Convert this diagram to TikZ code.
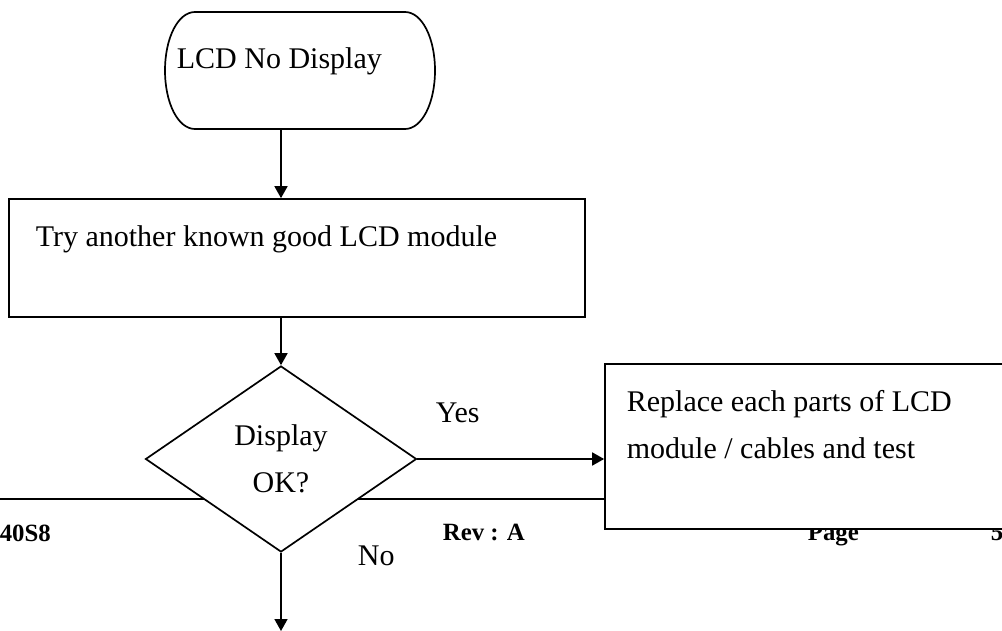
\documentclass[tikz,border=0pt]{standalone}
\usepackage{fontspec}
\setmainfont{Liberation Serif}
\usetikzlibrary{shapes.geometric,arrows.meta}
\tikzset{
  x=0.5pt, y=-0.5pt,
  arr/.style={-{Triangle[length=6pt,width=6.5pt]}},
  txt/.style={inner sep=0pt, anchor=base west, font=\fontsize{15pt}{23.5pt}\selectfont},
  foot/.style={inner sep=0pt, anchor=base west, font=\fontsize{12.4pt}{14pt}\selectfont\bfseries},
  termframe/.style={rectangle, inner sep=0pt, minimum width=135pt, minimum height=58.5pt},
  procbox/.style={draw, fill=white, rectangle, inner sep=0pt},
  decide/.style={draw, fill=white, diamond, minimum width=135.5pt, minimum height=93pt, inner sep=0pt, align=center, font=\fontsize{15pt}{23.5pt}\selectfont},
}
\begin{document}
\begin{tikzpicture}[line width=0.85pt]
\useasboundingbox (0,0) rectangle (1002,631);
\clip (0,0) rectangle (1002,631);
% page footer (behind the flowchart)
\draw (0,499) -- (700,499);
\node[foot] (f1) at (-1,541) {40S8};
\node[foot] (f2) at (442,540) {Rev : A};
\node[foot] (f3) at (807,540) {Page};
\node[foot] (f4) at (990,540) {5};
% flowchart
\node[termframe] (start) at (300,70.5) {};
\draw[fill=white, line join=round] (195,12) -- (405,12)
  .. controls (422,12) and (435,38) .. (435,70.5)
  .. controls (435,103) and (422,129) .. (405,129)
  -- (195,129)
  .. controls (178,129) and (165,103) .. (165,70.5)
  .. controls (165,38) and (178,12) .. cycle;
\node[txt] (starttxt) at (176,69) {LCD No Display};
\node[procbox, minimum width=288pt, minimum height=59pt] (try) at (297,258) {};
\node[txt] (trytxt) at (35,247) {Try another known good LCD module};
\node[decide] (dia) at (281,459) {Display\\OK?};
\node[procbox, minimum width=202.5pt, minimum height=82.5pt] (rep) at (807.5,446.5) {};
\node[txt] (rep1) at (626,411) {Replace each parts of LCD};
\node[txt] (rep2) at (626,458) {module / cables and test};
\coordinate (endpt) at (281,631);
\draw[arr] (start.south -| dia.north) -- (try.north -| dia.north);
\draw[arr] (try.south -| dia.north) -- (dia.north);
\draw[arr] (dia.east) -- (dia.east -| rep.west);
\draw[arr] (dia.south) -- (endpt);
\node[txt] (yes) at (435,422) {Yes};
\node[txt] (no) at (357,565) {No};
\end{tikzpicture}
\end{document}
